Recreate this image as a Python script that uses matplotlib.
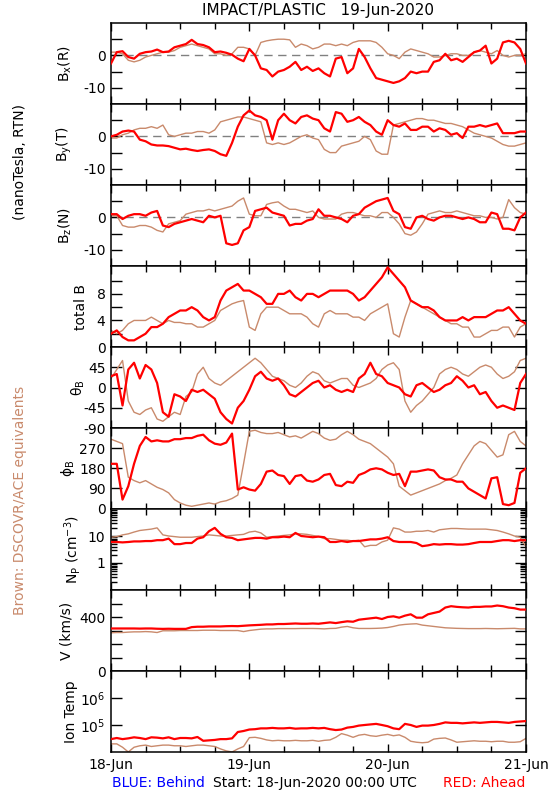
import numpy as np
import matplotlib
matplotlib.use('Agg')
from matplotlib import pyplot as plt
from matplotlib.ticker import FixedLocator, NullFormatter, LogLocator

plt.rcParams['font.family'] = ['DejaVu Sans']
plt.rcParams['mathtext.default'] = 'regular'
plt.rcParams['font.size'] = 10

RED = '#ff0000'
BROWN = '#c98a6c'

# hourly samples, 18-Jun 00:00 to 21-Jun 00:00 UTC
hours = np.arange(73)

bx_red = [-2.5, 1.0, 1.3, -0.5, -1.0, 0.5, 1.0, 1.2, 1.8, 1.0, 1.2, 2.5, 3.0, 3.5, 4.8, 3.5, 3.2, 2.5, 1.0, 1.2,
          0.8, 0.2, -1.0, -1.8, 2.0, 0.0, -4.0, -4.5, -6.5, -5.0, -4.5, -3.5, -2.0, -4.5, -3.5, -4.8, -4.0, -5.5,
          -6.5, -1.0, -0.5, -5.5, -4.0, 2.0, -0.5, -4.0, -7.0, -7.5, -8.0, -8.5, -8.0, -7.0, -5.0, -5.5, -5.0,
          -5.0, -2.0, -1.5, 0.5, -1.5, -1.0, -2.0, -0.5, 1.0, 1.5, 3.0, -2.5, -1.0, 4.0, 4.5, 4.0, 2.0, -2.5]
bx_brown = [1.0, 1.0, 0.5, -1.5, -2.0, -1.5, -0.5, 0.0, 0.5, 1.0, 1.0, 1.5, 2.5, 3.0, 3.5, 3.0, 2.5, 2.0, 0.5, 0.5,
            0.0, 0.5, 2.5, 2.5, 2.0, 0.0, 4.0, 4.5, 4.8, 5.0, 5.0, 4.8, 2.5, 3.5, 3.0, 2.0, 2.5, 3.5, 3.5, 3.0,
            3.5, 3.0, 4.0, 4.5, 4.5, 4.5, 4.0, 2.5, 0.5, 0.0, -1.0, 1.0, 2.0, 1.5, 1.0, 0.5, -0.5, -0.5, 0.0, 0.5,
            0.5, 0.0, 0.0, 1.0, 1.5, 1.0, 0.5, 1.5, 0.0, -0.5, 0.0, 0.0, 0.5]

by_red = [0.0, 0.5, 1.5, 1.8, 1.5, -1.0, -1.5, -2.5, -2.8, -2.8, -3.0, -3.5, -4.0, -3.8, -4.2, -4.5, -4.2, -4.0,
          -4.5, -5.5, -6.0, -2.0, 3.0, 6.5, 8.0, 6.5, 6.0, 5.0, -1.0, 5.0, 7.0, 5.0, 4.0, 6.0, 6.5, 5.5, 5.0, 2.5,
          1.5, 7.5, 7.0, 4.5, 5.0, 6.0, 4.5, 3.5, 1.5, 0.5, 5.0, 3.5, 3.0, 4.0, 2.0, 2.0, 3.0, 3.0, 1.5, 2.5, 2.0,
          0.5, 1.0, -0.5, 3.0, 3.0, 3.5, 3.0, 3.5, 4.0, 1.0, 1.0, 1.0, 1.5, 1.5]
by_brown = [-0.5, -0.5, 0.5, 1.0, 2.0, 2.5, 2.5, 3.0, 2.5, 3.5, 0.5, 0.0, 0.5, 1.0, 1.0, 1.5, 1.5, 1.0, 2.0, 4.5,
            5.0, 5.5, 6.0, 6.0, 5.5, 5.0, 4.5, -2.0, -2.5, -2.0, -2.5, -2.0, -1.0, 0.0, 0.5, -0.5, -1.0, -4.0,
            -5.0, -5.0, -3.0, -2.5, -2.0, -1.5, 0.0, -1.0, -4.5, -5.5, -5.5, 3.5, 4.0, 4.5, 5.0, 5.5, 5.5, 5.0,
            5.0, 4.5, 4.0, 4.0, 3.5, 3.0, 2.0, 1.0, 0.5, 0.0, -0.5, -1.5, -2.5, -3.0, -3.0, -2.5, -2.0]

bz_red = [1.0, 1.0, -0.5, 0.5, 1.0, 1.0, 0.5, 1.5, 2.0, -2.5, -3.0, -2.0, -1.5, -1.0, -0.5, -1.0, -1.5, 0.5, 0.0,
          0.5, -8.0, -8.5, -8.0, -4.0, -3.0, 2.0, 2.5, 3.0, 1.5, 1.0, 0.5, -2.5, -2.0, -2.0, -1.0, -0.5, 2.5, 0.5,
          0.5, 0.0, -0.5, -1.5, 0.5, 1.0, 3.0, 4.0, 5.0, 5.5, 6.0, 2.0, 1.0, -3.0, -3.5, 0.0, 0.5, -0.5, -1.0,
          0.0, 0.5, 0.5, 0.0, -0.5, 0.0, -0.5, -1.5, -1.5, 1.5, 1.0, -3.5, -3.5, -4.0, 0.0, 1.5]
bz_brown = [0.5, 0.5, -2.5, -3.0, -3.0, -2.5, -2.5, -3.0, -4.0, -4.5, -2.0, -1.5, -1.0, 1.0, 1.5, 2.0, 2.0, 2.5,
            2.0, 2.5, 3.0, 3.5, 5.0, 6.0, 1.0, 0.5, 0.5, 4.0, 4.5, 4.8, 3.5, 2.5, 2.5, 2.0, 1.5, 2.0, 0.0, -0.5,
            -0.5, -0.5, 1.0, 1.5, 1.5, 1.0, 0.5, 0.5, 0.0, 1.5, 1.5, 0.0, -2.0, -5.0, -5.5, -4.5, -2.0, 1.0, 1.5,
            2.0, 1.5, 1.5, 2.0, 1.5, 1.0, 0.5, 0.5, 0.0, 0.0, -0.5, 0.0, 5.5, 3.0, 1.5, 1.0]

bt_red = [2.0, 2.5, 1.5, 1.0, 1.0, 1.5, 2.0, 3.0, 3.0, 3.5, 4.5, 5.0, 5.5, 5.5, 6.0, 5.5, 4.5, 4.0, 4.5, 7.0, 8.5,
          9.0, 9.5, 8.5, 8.5, 8.0, 7.5, 6.5, 6.5, 8.0, 8.0, 8.5, 7.5, 7.0, 8.0, 8.0, 7.5, 8.0, 8.5, 8.5, 8.5, 8.5,
          8.0, 7.0, 7.5, 8.5, 9.5, 10.5, 12.0, 11.0, 10.0, 9.0, 7.0, 6.5, 6.0, 6.0, 5.5, 4.5, 4.0, 4.0, 4.0, 4.5,
          4.0, 4.5, 4.5, 4.5, 5.0, 5.5, 5.5, 6.0, 5.0, 4.0, 3.5]
bt_brown = [2.5, 2.0, 2.5, 3.5, 4.0, 4.0, 4.0, 4.5, 4.0, 3.5, 4.0, 3.7, 3.7, 3.5, 3.5, 3.0, 3.0, 3.5, 4.0, 5.5, 6.0,
            6.5, 6.8, 7.0, 3.0, 2.5, 5.0, 6.0, 6.0, 6.0, 5.5, 5.0, 5.0, 5.0, 4.5, 3.5, 3.0, 5.0, 5.5, 5.0, 5.0,
            5.0, 4.5, 4.5, 4.0, 5.0, 5.5, 6.0, 6.5, 2.0, 1.5, 4.5, 7.0, 6.5, 6.0, 5.5, 5.0, 4.5, 4.0, 3.5, 3.5,
            3.0, 3.0, 1.5, 1.5, 2.0, 2.5, 2.5, 3.0, 3.0, 1.5, 3.0, 3.5]

theta_red = [25, 30, -40, 40, 55, 20, 50, 40, 10, -55, -65, -15, -20, -30, -5, -10, -5, -15, -25, -55, -70, -80,
             -45, -30, -5, 25, 35, 20, 15, 20, 5, -15, -20, -10, 0, 10, 15, 0, 5, -5, -10, -5, -10, 20, 30, 55,
             30, 25, 10, 5, 0, -15, -20, 5, 10, 0, -10, -5, 5, 10, 25, 15, 0, 5, -15, -10, -30, -45, -40, -45,
             -50, 10, 30]
theta_brown = [20, 40, 60, -30, -55, -60, -50, -45, -70, -75, -65, -55, -60, -20, -10, 30, 45, 20, 10, 5, 15, 25,
               35, 45, 55, 65, 55, 40, 25, 20, 15, 5, 0, 10, 25, 35, 30, 15, 10, 15, 20, 20, 5, 0, 5, 10, 20, 40,
               50, 55, 40, -30, -55, -40, -30, -15, 0, 30, 40, 45, 40, 30, 25, 35, 45, 50, 45, 30, 20, 25, 35, 60,
               65]

phi_red = [200, 200, 40, 100, 200, 280, 320, 300, 305, 300, 300, 310, 310, 315, 315, 325, 330, 305, 290, 285, 295,
           335, 85, 95, 85, 80, 110, 165, 170, 150, 145, 110, 145, 150, 125, 120, 130, 150, 155, 105, 100, 120,
           115, 150, 160, 175, 180, 175, 160, 150, 155, 100, 165, 165, 170, 175, 170, 140, 130, 130, 120, 120, 90,
           75, 60, 45, 135, 140, 20, 15, 25, 160, 180]
phi_brown = [310, 300, 290, 140, 125, 115, 125, 110, 95, 85, 70, 40, 25, 15, 10, 15, 20, 25, 20, 30, 35, 45, 60,
             200, 345, 350, 340, 335, 335, 340, 330, 320, 325, 315, 330, 345, 335, 315, 305, 310, 330, 345, 330,
             310, 300, 290, 270, 250, 230, 200, 100, 80, 60, 70, 80, 90, 100, 110, 125, 135, 150, 200, 240, 280,
             300, 290, 260, 230, 240, 330, 345, 300, 280]

np_red = [6.0, 6.0, 5.8, 6.0, 6.3, 6.3, 6.5, 6.5, 7.0, 7.0, 8.0, 5.0, 5.0, 5.5, 5.5, 8.0, 9.0, 15.0, 20.0, 12.0,
          9.0, 8.5, 7.0, 7.5, 8.0, 8.5, 8.5, 8.0, 9.0, 9.0, 9.5, 9.0, 13.0, 10.0, 9.5, 9.0, 9.5, 9.0, 6.0, 6.0,
          6.5, 6.0, 6.5, 6.5, 7.0, 7.5, 7.5, 8.0, 9.0, 6.5, 6.0, 6.0, 6.0, 5.5, 4.2, 4.5, 5.0, 4.8, 5.0, 5.0,
          4.8, 4.8, 5.0, 5.5, 6.0, 6.0, 6.0, 6.5, 7.0, 7.0, 6.5, 7.0, 7.0]
np_brown = [9.0, 9.5, 11.0, 12.0, 14.0, 16.0, 17.0, 18.0, 20.0, 11.0, 10.0, 9.5, 9.0, 9.0, 9.0, 9.5, 10.0, 11.0,
            10.5, 10.0, 10.0, 10.5, 11.0, 11.5, 14.0, 15.0, 13.0, 9.0, 9.5, 10.0, 10.5, 11.0, 12.0, 12.0, 11.5,
            10.5, 9.5, 8.0, 8.0, 7.5, 7.0, 7.0, 6.5, 7.0, 4.0, 4.5, 4.5, 6.0, 7.0, 20.0, 18.0, 14.0, 14.0, 15.0,
            15.0, 16.0, 14.0, 17.0, 18.0, 19.0, 19.0, 18.5, 18.0, 18.0, 18.0, 18.0, 17.0, 16.0, 14.0, 12.0, 10.0,
            9.0, 4.0]

v_red = [315, 315, 315, 315, 315, 314, 315, 315, 313, 312, 313, 312, 312, 312, 325, 328, 328, 330, 330, 330, 332,
         333, 332, 335, 338, 340, 342, 345, 345, 348, 348, 350, 352, 350, 350, 352, 350, 355, 360, 355, 362, 368,
         365, 380, 385, 390, 395, 385, 400, 405, 395, 410, 420, 395, 395, 420, 430, 440, 470, 480, 475, 472, 470,
         475, 475, 478, 478, 485, 480, 470, 465, 455, 455]
v_brown = [283, 285, 285, 288, 290, 290, 292, 290, 285, 298, 298, 298, 300, 300, 300, 300, 302, 302, 302, 300, 300,
           300, 300, 292, 300, 305, 310, 312, 312, 314, 314, 314, 314, 315, 315, 315, 314, 312, 315, 316, 325,
           330, 320, 315, 315, 315, 316, 318, 322, 330, 340, 345, 348, 350, 340, 335, 330, 325, 320, 318, 316,
           315, 314, 314, 314, 315, 314, 313, 314, 315, 316, 312, 312]

t_red = [3.0e4, 3.3e4, 3.0e4, 3.2e4, 3.5e4, 3.3e4, 3.0e4, 3.5e4, 3.4e4, 3.2e4, 3.5e4, 3.0e4, 3.3e4, 3.3e4, 3.2e4,
         3.6e4, 2.6e4, 2.7e4, 2.8e4, 3.0e4, 3.0e4, 3.2e4, 5.5e4, 6.0e4, 6.8e4, 7.0e4, 7.5e4, 7.5e4, 7.8e4, 7.5e4,
         7.5e4, 7.8e4, 7.3e4, 7.5e4, 7.5e4, 7.8e4, 7.5e4, 7.8e4, 7.0e4, 6.5e4, 6.8e4, 8.0e4, 8.5e4, 9.5e4, 1.0e5,
         1.05e5, 1.1e5, 1.0e5, 9.0e4, 7.5e4, 7.0e4, 1.1e5, 1.0e5, 8.5e4, 9.5e4, 9.5e4, 1.0e5, 1.1e5, 1.25e5,
         1.2e5, 1.2e5, 1.15e5, 1.2e5, 1.25e5, 1.2e5, 1.25e5, 1.3e5, 1.3e5, 1.25e5, 1.2e5, 1.3e5, 1.35e5, 1.4e5]
t_brown = [2.0e4, 2.0e4, 1.5e4, 1.0e4, 1.5e4, 1.7e4, 1.8e4, 1.6e4, 1.7e4, 1.8e4, 1.8e4, 1.7e4, 1.7e4, 1.6e4,
           1.7e4, 1.8e4, 1.8e4, 1.7e4, 1.6e4, 1.3e4, 1.1e4, 1.0e4, 1.3e4, 1.6e4, 3.4e4, 3.5e4, 3.2e4, 2.8e4,
           2.6e4, 2.7e4, 2.6e4, 2.6e4, 2.7e4, 2.6e4, 2.6e4, 2.7e4, 2.5e4, 2.7e4, 2.8e4, 3.5e4, 4.8e4, 4.2e4,
           3.5e4, 4.2e4, 4.5e4, 4.0e4, 3.8e4, 4.2e4, 4.5e4, 4.0e4, 4.3e4, 3.5e4, 2.5e4, 2.3e4, 2.2e4, 2.3e4,
           3.0e4, 3.2e4, 3.3e4, 2.8e4, 2.3e4, 2.4e4, 2.5e4, 2.6e4, 2.5e4, 2.5e4, 2.4e4, 2.5e4, 2.5e4, 2.3e4,
           2.3e4, 2.4e4, 3.2e4]

day_labels = ['18-Jun', '19-Jun', '20-Jun', '21-Jun']

panels = [
    # red, brown, ylabel, ylim, ticks, labelled ticks, log, label x, zero line
    (bx_red, bx_brown, 'B$_x$(R)', (-15, 10), [-10, -5, 0, 5], [-10, 0], False, -0.09, True),
    (by_red, by_brown, 'B$_y$(T)', (-15, 10), [-10, -5, 0, 5], [-10, 0], False, -0.09, True),
    (bz_red, bz_brown, 'B$_z$(N)', (-15, 10), [-10, -5, 0, 5], [-10, 0], False, -0.09, True),
    (bt_red, bt_brown, 'total B', (0, 12.2), [0, 2, 4, 6, 8, 10], [0, 4, 8], False, -0.055, False),
    (theta_red, theta_brown, r'$\theta_B$', (-90, 90), [-90, -45, 0, 45], [-90, -45, 0, 45], False, -0.058, False),
    (phi_red, phi_brown, r'$\phi_B$', (-2, 360), [0, 90, 180, 270], [0, 90, 180, 270], False, -0.082, False),
    (np_red, np_brown, 'N$_P$ (cm$^{-3}$)', (0.1, 100), [1, 10], [1, 10], True, -0.067, False),
    (v_red, v_brown, 'V (km/s)', (0, 600), [0, 100, 200, 300, 400, 500], [0, 400], False, -0.09, False),
    (t_red, t_brown, 'Ion Temp', (1e4, 1e7), [1e5, 1e6], [1e5, 1e6], True, -0.08, False),
]

fig = plt.figure(figsize=(5.5, 8), dpi=100)
left = 111 / 550
width = 415 / 550
ph = 81 / 800
top = 1 - 23 / 800

days = hours / 24.0
for i, (red, brown, ylab, ylim, ticks, lab_ticks, logy, lx, zero) in enumerate(panels):
    ax = fig.add_axes([left, top - (i + 1) * ph, width, ph])
    if zero:
        ax.axhline(0, color='gray', lw=1, ls=(0, (6, 4)), zorder=1)
    ax.plot(days, brown, color=BROWN, lw=1.0, zorder=2)
    ax.plot(days, red, color=RED, lw=1.6, zorder=3)
    if logy:
        ax.set_yscale('log')
    ax.set_xlim(0, 3)
    ax.set_ylim(*ylim)
    ax.yaxis.set_major_locator(FixedLocator(ticks))
    labels = []
    for t in ticks:
        if t in lab_ticks:
            if logy and t >= 1e5:
                labels.append('10$^{%d}$' % int(round(np.log10(t))))
            else:
                labels.append('%g' % t)
        else:
            labels.append('')
    ax.set_yticklabels(labels)
    if logy and ylim[0] < 1:
        ax.yaxis.set_minor_locator(LogLocator(base=10, subs=np.arange(2, 10)))
        ax.yaxis.set_minor_formatter(NullFormatter())
    elif logy:
        ax.yaxis.set_minor_locator(FixedLocator([]))
    ax.xaxis.set_major_locator(FixedLocator([0, 1, 2, 3]))
    ax.xaxis.set_minor_locator(FixedLocator(np.arange(0, 3.01, 0.25)))
    ax.tick_params(axis='both', which='both', direction='in', top=True, right=True)
    ax.tick_params(axis='y', which='major', length=8, width=1, labelsize=10, pad=4)
    ax.tick_params(axis='y', which='minor', length=4, width=1)
    ax.tick_params(axis='x', which='major', length=6, width=1)
    ax.tick_params(axis='x', which='minor', length=4, width=1)
    if i == len(panels) - 1:
        ax.set_xticklabels(day_labels)
        ax.tick_params(axis='x', labelsize=10, pad=4)
    else:
        ax.set_xticklabels([])
    ax.set_ylabel(ylab, fontsize=10)
    ax.yaxis.set_label_coords(lx, 0.5)
    for sp in ax.spines.values():
        sp.set_linewidth(1.1)

fig.text(318 / 550, 1 - 11 / 800, 'IMPACT/PLASTIC   19-Jun-2020', ha='center', va='center', fontsize=11)
fig.text(20 / 550, 1 - 162 / 800, '(nanoTesla, RTN)', rotation=90, ha='center', va='center', fontsize=10)
fig.text(20 / 550, 1 - 500 / 800, 'Brown: DSCOVR/ACE equivalents', rotation=90, ha='center', va='center',
         fontsize=10, color=BROWN)
fig.text(112 / 550, 1 - 783 / 800, 'BLUE: Behind', color='blue', ha='left', va='center', fontsize=10)
fig.text(213 / 550, 1 - 783 / 800, 'Start: 18-Jun-2020 00:00 UTC', ha='left', va='center', fontsize=10)
fig.text(525 / 550, 1 - 783 / 800, 'RED: Ahead', color=RED, ha='right', va='center', fontsize=10)

fig.savefig('out.png', dpi=100)
